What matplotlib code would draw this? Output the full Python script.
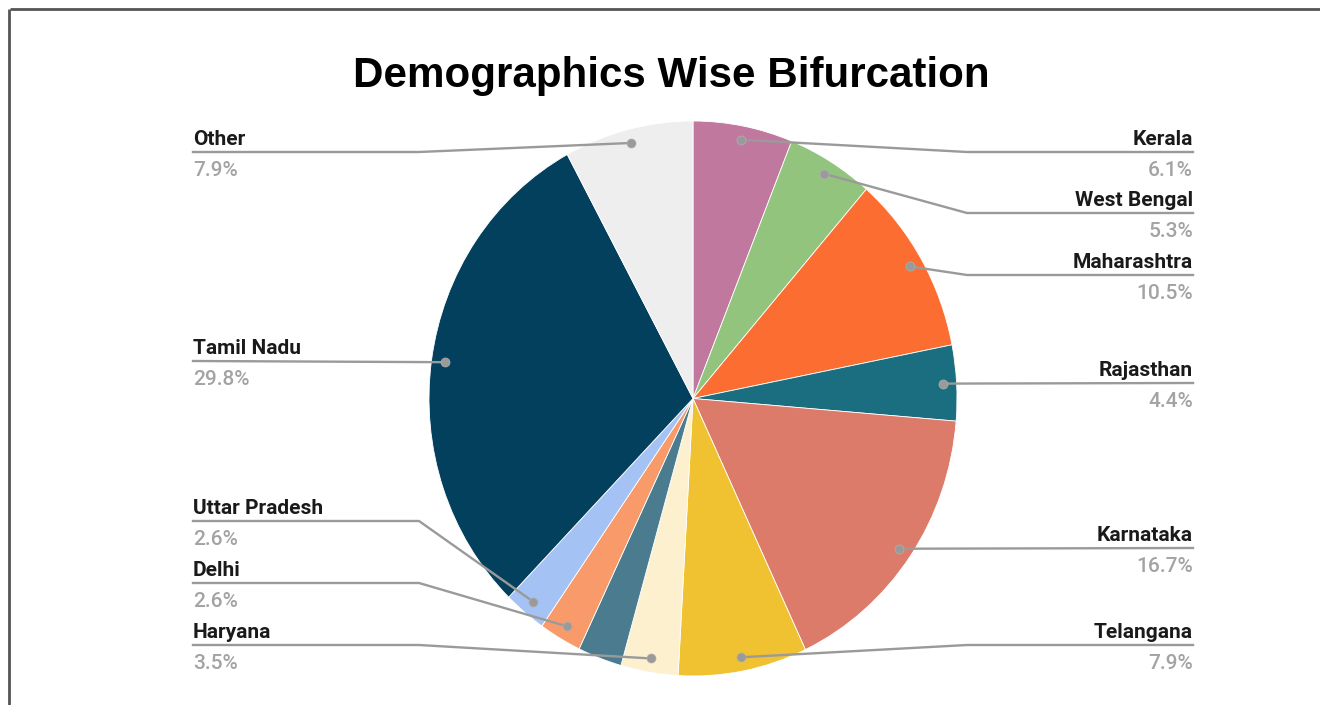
import numpy as np
import matplotlib.pyplot as plt

# slices, clockwise from 12 o'clock
states = ['Kerala', 'West Bengal', 'Maharashtra', 'Rajasthan', 'Karnataka', 'Telangana',
          'Haryana', '', 'Delhi', 'Uttar Pradesh', 'Tamil Nadu', 'Other']
shares = [6.1, 5.3, 10.5, 4.4, 16.7, 7.9, 3.5, 2.7, 2.6, 2.6, 29.8, 7.9]
colors = ['#c0789f', '#93c47d', '#fc6d31', '#1b6e7f', '#dc7b69', '#f0c232',
          '#fdf0cf', '#4a7b8e', '#f89a6a', '#a4c2f4', '#02405e', '#eeeeee']

# label line height (px) for each labelled slice
label_y = {'Kerala': 152, 'West Bengal': 213, 'Maharashtra': 275, 'Rajasthan': 383,
           'Karnataka': 548, 'Telangana': 645, 'Haryana': 645, 'Delhi': 583,
           'Uttar Pradesh': 521, 'Tamil Nadu': 361, 'Other': 152}

W, H = 1320, 705
fig = plt.figure(figsize=(W / 100, H / 100), dpi=100)

# pie box in pixels
cx, cy, rx, ry = 693, 398.5, 264, 277.5
axp = fig.add_axes([(cx - rx) / W, 1 - (cy + ry) / H, 2 * rx / W, 2 * ry / H])
axp.pie(shares, colors=colors, startangle=90, counterclock=False, radius=1,
        wedgeprops=dict(linewidth=0.6, edgecolor='white'))
axp.set_aspect('auto')
axp.set_xlim(-1, 1)
axp.set_ylim(-1, 1)
axp.axis('off')

# overlay in pixel coords
ax = fig.add_axes([0, 0, 1, 1])
ax.set_xlim(0, W)
ax.set_ylim(H, 0)
ax.axis('off')

# frame of the screenshot
ax.plot([10, W + 5], [9, 9], color='#555555', lw=2, solid_capstyle='butt')
ax.plot([9, 9], [9, H + 5], color='#555555', lw=2, solid_capstyle='butt')

ax.text(671, 87, 'Demographics Wise Bifurcation', fontsize=30.3, fontweight='bold',
        family='Liberation Sans', ha='center', va='baseline', color='#000000')

line_c = '#9a9a9a'
cum = np.cumsum([0] + shares[:-1])
total = sum(shares)
for name, s, c0 in zip(states, shares, cum):
    if not name:
        continue
    mid = np.radians((c0 + s / 2) / total * 360)
    dx = cx + 0.95 * rx * np.sin(mid)
    dy = cy - 0.95 * ry * np.cos(mid)
    ly = label_y[name]
    right = dx > cx
    if right:
        ex, end = 967, 1193
    else:
        ex, end = 419, 193
    if abs(dy - ly) < 6:
        xs, ys = [dx, end], [dy, ly]
    else:
        xs, ys = [dx, ex, end], [dy, ly, ly]
    ax.plot(xs, ys, color=line_c, lw=1.7, zorder=3)
    ax.plot(dx, dy, 'o', ms=6.5, color=line_c, mec='#b0b0b0', mew=0.5, zorder=4)
    ha = 'right' if right else 'left'
    ax.text(end, ly - 7, name, fontsize=15, fontweight='bold', family='Roboto',
            ha=ha, va='baseline', color='#1a1a1a')
    ax.text(end, ly + 24, f'{s:.1f}%', fontsize=15, fontweight='medium', family='Roboto',
            ha=ha, va='baseline', color='#a3a3a3')

fig.savefig('out.png', dpi=100)
